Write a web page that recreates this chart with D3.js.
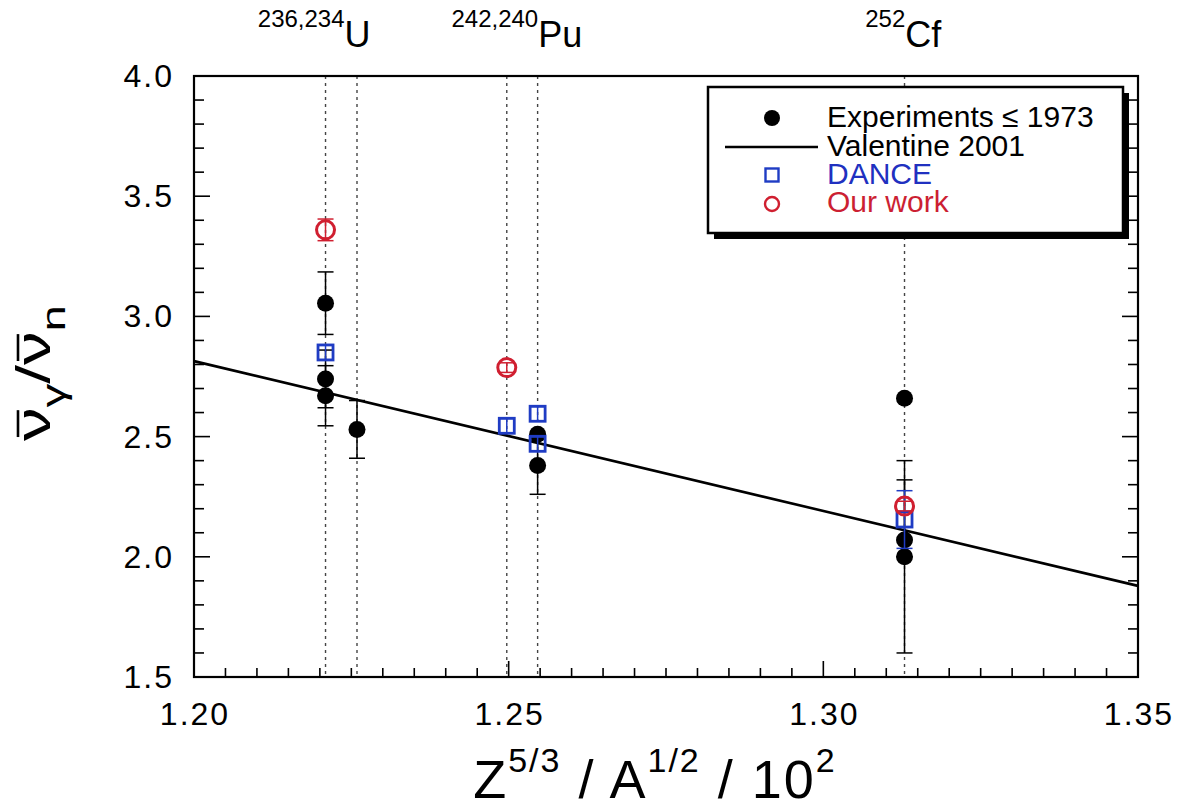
<!DOCTYPE html>
<html>
<head>
<meta charset="utf-8">
<script src="https://cdn.jsdelivr.net/npm/d3@7"></script>
<style>
html,body{margin:0;padding:0;background:#fff;}
svg{display:block;font-family:"Liberation Sans",Arial,Helvetica,sans-serif;}
</style>
</head>
<body>
<svg id="chart" width="1184" height="810"></svg>
<script>
// ---- data ----
const xTicks = [1.20, 1.25, 1.30, 1.35];
const yTicks = [1.5, 2.0, 2.5, 3.0, 3.5, 4.0];
const isoX = [1.2209, 1.2259, 1.2497, 1.2546, 1.3129];
const isoLabelSup = ["236,234", "242,240", "252"];
const isoLabelEl = ["U", "Pu", "Cf"];
const isoLabelX = [1.2191, 1.2513, 1.3127];

const expX = [1.2209, 1.2209, 1.2209, 1.2259, 1.2546, 1.2546, 1.3129, 1.3129, 1.3129];
const expY = [3.055, 2.74, 2.67, 2.53, 2.51, 2.38, 2.66, 2.07, 2.00];
const expErrHi = [0.13, 0.12, 0.125, 0.12, 0, 0.12, 0, 0.25, 0.40];
const expErrLo = [0.13, 0.12, 0.125, 0.12, 0, 0.12, 0, 0.07, 0.40];

const danceX = [1.2209, 1.2497, 1.2546, 1.2546, 1.3129];
const danceY = [2.85, 2.545, 2.595, 2.47, 2.155];
const danceErr = [0.03, 0.03, 0.03, 0.03, 0.12];

const oursX = [1.2209, 1.2497, 1.3129];
const oursY = [3.36, 2.787, 2.211];
const oursErr = [0.045, 0.02, 0.02];

const fitX = [1.20, 1.35];
const fitY = [2.814, 1.879];

const legendLabels = ["Experiments \u2264 1973", "Valentine 2001", "DANCE", "Our work"];

// ---- layout ----
const svg = d3.select("#chart");
const L = 194, R = 1138, T = 76, B = 677;
const x = d3.scaleLinear().domain([1.20, 1.35]).range([L, R]);
const y = d3.scaleLinear().domain([1.5, 4.0]).range([B, T]);
const BLUE = "#1f3cc4", RED = "#d01f30";

// dotted isotope lines
svg.append("g").selectAll("line").data(isoX).join("line")
  .attr("x1", d => x(d)).attr("x2", d => x(d))
  .attr("y1", T).attr("y2", B)
  .attr("stroke", "#444").attr("stroke-width", 1.4)
  .attr("stroke-dasharray", "3,4");

// bottom axis (inward ticks)
const gBot = svg.append("g").attr("transform", `translate(0,${B})`);
const bottomTicks = d3.range(0, 31).map(i => 1.20 + i * 0.005);
gBot.selectAll("line.t").data(bottomTicks).join("line")
  .attr("x1", d => x(d)).attr("x2", d => x(d))
  .attr("y1", 0).attr("y2", (d, i) => i % 10 === 0 ? -16 : -9)
  .attr("stroke", "#000").attr("stroke-width", 1.6);
gBot.selectAll("text").data(xTicks).join("text")
  .attr("x", d => x(d) + 1).attr("y", 48)
  .attr("text-anchor", "middle").attr("font-size", 32).attr("letter-spacing", 2)
  .text(d => d3.format(".2f")(d));

const yMinor = d3.range(0, 26).map(i => 1.5 + i * 0.1);
const gLeft = svg.append("g");
gLeft.selectAll("line").data(yMinor).join("line")
  .attr("x1", L).attr("x2", (d, i) => L + (i % 5 === 0 ? 16 : 10))
  .attr("y1", d => y(d)).attr("y2", d => y(d))
  .attr("stroke", "#000").attr("stroke-width", 1.6);
gLeft.selectAll("text").data(yTicks).join("text")
  .attr("x", 174).attr("y", d => y(d) + 11)
  .attr("text-anchor", "end").attr("font-size", 32).attr("letter-spacing", 2)
  .text(d => d3.format(".1f")(d));

const gRight = svg.append("g");
gRight.selectAll("line").data(yMinor).join("line")
  .attr("x1", R).attr("x2", (d, i) => R - (i % 5 === 0 ? 16 : 10))
  .attr("y1", d => y(d)).attr("y2", d => y(d))
  .attr("stroke", "#000").attr("stroke-width", 1.6);

// frame
svg.append("rect").attr("x", L).attr("y", T).attr("width", R - L).attr("height", B - T)
  .attr("fill", "none").attr("stroke", "#000").attr("stroke-width", 2.2);

// fit line
svg.append("line")
  .attr("x1", x(fitX[0])).attr("y1", y(fitY[0]))
  .attr("x2", x(fitX[1])).attr("y2", y(fitY[1]))
  .attr("stroke", "#000").attr("stroke-width", 2.6);

// error bar helper
function errBars(xs, ys, hi, lo, color) {
  const g = svg.append("g").attr("stroke", color).attr("stroke-width", 1.5);
  xs.forEach((xv, i) => {
    if (hi[i] <= 0 && lo[i] <= 0) return;
    const cx = x(xv), y1 = y(ys[i] + hi[i]), y2 = y(ys[i] - lo[i]);
    g.append("line").attr("x1", cx).attr("x2", cx).attr("y1", y1).attr("y2", y2);
    if (hi[i] > 0) g.append("line").attr("x1", cx - 8).attr("x2", cx + 8).attr("y1", y1).attr("y2", y1);
    if (lo[i] > 0) g.append("line").attr("x1", cx - 8).attr("x2", cx + 8).attr("y1", y2).attr("y2", y2);
  });
}

// experiments
errBars(expX, expY, expErrHi, expErrLo, "#000");
svg.append("g").selectAll("circle").data(expX).join("circle")
  .attr("cx", d => x(d)).attr("cy", (d, i) => y(expY[i])).attr("r", 8.5).attr("fill", "#000");

// DANCE
errBars(danceX, danceY, danceErr, danceErr, BLUE);
svg.append("g").selectAll("rect").data(danceX).join("rect")
  .attr("x", d => x(d) - 7.5).attr("y", (d, i) => y(danceY[i]) - 7.5)
  .attr("width", 15).attr("height", 15)
  .attr("fill", "none").attr("stroke", BLUE).attr("stroke-width", 2.8);

// Our work
errBars(oursX, oursY, oursErr, oursErr, RED);
svg.append("g").selectAll("circle").data(oursX).join("circle")
  .attr("cx", d => x(d)).attr("cy", (d, i) => y(oursY[i])).attr("r", 9)
  .attr("fill", "none").attr("stroke", RED).attr("stroke-width", 3);

// isotope labels on top
isoLabelEl.forEach((el, i) => {
  const t = svg.append("text").attr("x", x(isoLabelX[i])).attr("y", 47)
    .attr("text-anchor", "middle").attr("font-size", 36);
  t.append("tspan").attr("font-size", 24).attr("dy", -20).text(isoLabelSup[i]);
  t.append("tspan").attr("dy", 20).text(el);
});

// legend
const lg = svg.append("g");
const lx = 708, ly = 87, lw = 415, lh = 146;
lg.append("rect").attr("x", lx + 6).attr("y", ly + 6).attr("width", lw).attr("height", lh).attr("fill", "#000");
lg.append("rect").attr("x", lx).attr("y", ly).attr("width", lw).attr("height", lh)
  .attr("fill", "#fff").attr("stroke", "#000").attr("stroke-width", 2.5);
const rowBase = [127, 156, 184, 212];
const legColors = ["#000", "#000", "#2030c0", "#cc1f33"];
lg.selectAll("text").data(legendLabels).join("text")
  .attr("x", 827).attr("y", (d, i) => rowBase[i])
  .attr("font-size", 30).attr("fill", (d, i) => legColors[i])
  .text(d => d);
lg.append("circle").attr("cx", 772).attr("cy", 118).attr("r", 8).attr("fill", "#000");
lg.append("line").attr("x1", 725).attr("x2", 818).attr("y1", 147).attr("y2", 147)
  .attr("stroke", "#000").attr("stroke-width", 2.4);
lg.append("rect").attr("x", 765.5).attr("y", 168.5).attr("width", 13).attr("height", 13)
  .attr("fill", "none").attr("stroke", BLUE).attr("stroke-width", 2.4);
lg.append("circle").attr("cx", 772).attr("cy", 204).attr("r", 7)
  .attr("fill", "none").attr("stroke", RED).attr("stroke-width", 2.4);

// x title
const xt = svg.append("text").attr("x", 655).attr("y", 798)
  .attr("text-anchor", "middle").attr("font-size", 54).attr("letter-spacing", 2);
xt.append("tspan").text("Z");
xt.append("tspan").attr("font-size", 34).attr("dy", -26).text("5/3");
xt.append("tspan").attr("dy", 26).text(" / A");
xt.append("tspan").attr("font-size", 34).attr("dy", -26).text("1/2");
xt.append("tspan").attr("dy", 26).text(" / 10");
xt.append("tspan").attr("font-size", 34).attr("dy", -26).text("2");

// y title (rotated, stretched along reading direction)
const yg = svg.append("g").attr("transform", "translate(50,373) rotate(-90) scale(1.4,1)");
const yt = yg.append("text").attr("x", 0).attr("y", 0)
  .attr("text-anchor", "middle").attr("font-size", 48);
yt.append("tspan").text("\u03BD");
yt.append("tspan").attr("font-size", 34).attr("dy", 15).text("\u03B3");
yt.append("tspan").attr("dy", -15).text("/\u03BD");
yt.append("tspan").attr("font-size", 34).attr("dy", 15).text("n");
// overbars over the two nu glyphs
const node = yt.node();
[0, 3].forEach(ci => {
  const e = node.getExtentOfChar(ci);
  yg.append("line")
    .attr("x1", e.x + e.width * 0.12).attr("x2", e.x + e.width * 0.92)
    .attr("y1", -32).attr("y2", -32)
    .attr("stroke", "#000").attr("stroke-width", 2.6);
});
</script>
</body>
</html>
